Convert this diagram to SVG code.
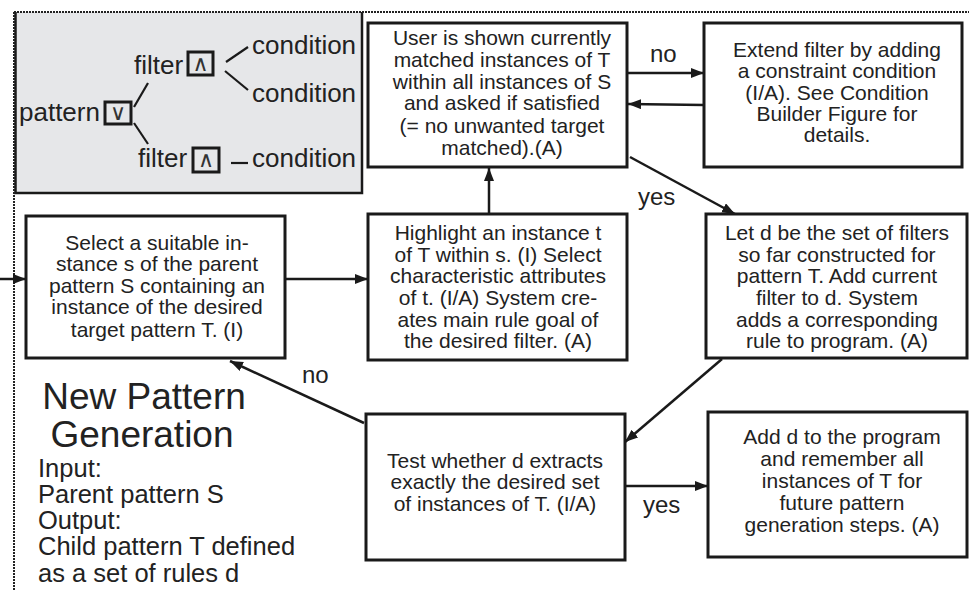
<svg xmlns="http://www.w3.org/2000/svg" width="969" height="590" viewBox="0 0 969 590">
<style>
text{font-family:"Liberation Sans",Arial,sans-serif;fill:#222}
.bt{font-size:21px;text-anchor:middle}
.gt{font-size:26px}
.lb{font-size:24px}
.box{fill:#fff;stroke:#1a1a1a;stroke-width:3}
.sym{fill:none;stroke:#1a1a1a;stroke-width:3}
.symt{font-family:"DejaVu Sans",sans-serif;font-size:22px;text-anchor:middle;fill:#333}
.tree{stroke:#1a1a1a;stroke-width:2.2;fill:none}
.con{stroke:#1a1a1a;stroke-width:2.5;fill:none}
.frame{stroke:#222;stroke-width:2;stroke-dasharray:2 1;fill:none}
</style>
<defs>
<marker id="ah" markerUnits="userSpaceOnUse" markerWidth="14" markerHeight="12" refX="13" refY="5" orient="auto">
<path d="M0,0 L13,5 L0,10 z" fill="#1a1a1a"/>
</marker>
</defs>
<rect width="969" height="590" fill="#fff"/>
<g id="legend">
<rect x="15" y="12" width="347" height="181" fill="#e6e7e9"/>
<path d="M15.5,12 V193 H362 V12" fill="none" stroke="#1a1a1a" stroke-width="2.5"/>
<text class="gt" x="19" y="121">pattern</text>
<rect class="sym" x="105" y="102" width="26" height="22"/>
<text class="symt" x="118" y="120">∨</text>
<text class="gt" x="134" y="74">filter</text>
<rect class="sym" x="188" y="52" width="25" height="23"/>
<text class="symt" x="200.5" y="71">∧</text>
<text class="gt" x="138" y="167">filter</text>
<rect class="sym" x="193" y="148" width="26" height="24"/>
<text class="symt" x="206" y="167">∧</text>
<text class="gt" x="252" y="54">condition</text>
<text class="gt" x="252" y="102">condition</text>
<text class="gt" x="252" y="167">condition</text>
<line class="tree" x1="134" y1="107" x2="148" y2="83"/>
<line class="tree" x1="134" y1="123" x2="148" y2="144"/>
<line class="tree" x1="226" y1="62" x2="248" y2="47"/>
<line class="tree" x1="225" y1="71" x2="248" y2="90"/>
<line class="tree" x1="231" y1="163" x2="248" y2="163" stroke-width="2.6"/>
</g>
<g id="frame">
<line class="frame" x1="14" y1="12" x2="969" y2="12"/>
<line class="frame" x1="14" y1="12" x2="14" y2="590"/>
</g>
<g id="title">
<text x="144" y="409" style="font-size:37px;text-anchor:middle">New Pattern</text>
<text x="142" y="447" style="font-size:37px;text-anchor:middle">Generation</text>
<text x="38" y="477" style="font-size:25.5px">Input:</text>
<text x="38" y="503" style="font-size:25.5px">Parent pattern S</text>
<text x="38" y="529" style="font-size:25.5px">Output:</text>
<text x="38" y="555" style="font-size:25.5px">Child pattern T defined</text>
<text x="38" y="582" style="font-size:25.5px">as a set of rules d</text>
</g>
<g id="connectors">
<line class="con" x1="0" y1="279" x2="26" y2="279" marker-end="url(#ah)"/>
<line class="con" x1="285" y1="279" x2="368" y2="279" stroke-width="3" marker-end="url(#ah)"/>
<line class="con" x1="489" y1="214" x2="489" y2="168" stroke-width="3" marker-end="url(#ah)"/>
<line class="con" x1="627" y1="73" x2="704" y2="73" marker-end="url(#ah)"/>
<line class="con" x1="704" y1="105" x2="628" y2="104" marker-end="url(#ah)"/>
<line class="con" x1="630" y1="157" x2="735" y2="214" marker-end="url(#ah)"/>
<line class="con" x1="722" y1="359" x2="625" y2="442" marker-end="url(#ah)"/>
<line class="con" x1="364" y1="423" x2="230" y2="361" marker-end="url(#ah)"/>
<line class="con" x1="625" y1="486" x2="708" y2="486" marker-end="url(#ah)"/>
<text class="lb" x="650" y="62">no</text>
<text class="lb" x="638" y="205">yes</text>
<text class="lb" x="302" y="383">no</text>
<text class="lb" x="643" y="513">yes</text>
</g>
<g id="boxA">
<rect class="box" x="368" y="23" width="259" height="144"/>
<text class="bt" x="502" y="45">User is shown currently</text>
<text class="bt" x="502" y="67">matched instances of T</text>
<text class="bt" x="502" y="89">within all instances of S</text>
<text class="bt" x="502" y="110">and asked if satisfied</text>
<text class="bt" x="502" y="133">(= no unwanted target</text>
<text class="bt" x="502" y="155">matched).(A)</text>
</g>
<g id="boxB">
<rect class="box" x="704" y="23" width="258" height="144"/>
<text class="bt" x="837" y="57">Extend filter by adding</text>
<text class="bt" x="837" y="78">a constraint condition</text>
<text class="bt" x="837" y="100">(I/A). See Condition</text>
<text class="bt" x="837" y="121">Builder Figure for</text>
<text class="bt" x="837" y="142">details.</text>
</g>
<g id="boxC">
<rect class="box" x="26" y="216" width="259" height="142"/>
<text class="bt" x="157" y="250">Select a suitable in-</text>
<text class="bt" x="157" y="271">stance s of the parent</text>
<text class="bt" x="157" y="293">pattern S containing an</text>
<text class="bt" x="157" y="314">instance of the desired</text>
<text class="bt" x="157" y="337">target pattern T.  (I)</text>
</g>
<g id="boxD">
<rect class="box" x="368" y="214" width="259" height="146"/>
<text class="bt" x="498" y="240">Highlight an instance t</text>
<text class="bt" x="498" y="262">of T within s. (I) Select</text>
<text class="bt" x="498" y="283">characteristic attributes</text>
<text class="bt" x="498" y="305">of t. (I/A) System cre-</text>
<text class="bt" x="498" y="327">ates main rule goal of</text>
<text class="bt" x="498" y="348">the desired filter. (A)</text>
</g>
<g id="boxE">
<rect class="box" x="706" y="214" width="261" height="144"/>
<text class="bt" x="837" y="240">Let d be the set of filters</text>
<text class="bt" x="837" y="262">so far constructed for</text>
<text class="bt" x="837" y="283">pattern T. Add current</text>
<text class="bt" x="837" y="305">filter to d. System</text>
<text class="bt" x="837" y="327">adds a corresponding</text>
<text class="bt" x="837" y="348">rule to program. (A)</text>
</g>
<g id="boxF">
<rect class="box" x="366" y="414" width="259" height="146"/>
<text class="bt" x="495" y="468">Test whether d extracts</text>
<text class="bt" x="495" y="489">exactly the desired set</text>
<text class="bt" x="495" y="511">of instances of T. (I/A)</text>
</g>
<g id="boxG">
<rect class="box" x="708" y="412" width="259" height="145"/>
<text class="bt" x="842" y="444">Add d to the program</text>
<text class="bt" x="842" y="466">and remember all</text>
<text class="bt" x="842" y="488">instances of T for</text>
<text class="bt" x="842" y="510">future pattern</text>
<text class="bt" x="842" y="532">generation steps. (A)</text>
</g>
</svg>
